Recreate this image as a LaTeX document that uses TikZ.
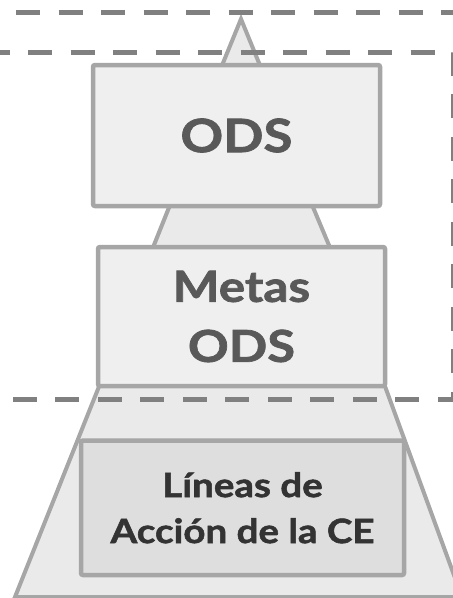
\documentclass[tikz,border=0pt]{standalone}
\usepackage{fontspec}
\setmainfont{Lato}[BoldFeatures={FakeStretch=1.15,FakeBold=1.6}]
\definecolor{edgegray}{HTML}{A6A6A6}
\definecolor{pyrfill}{HTML}{EAEAEA}
\definecolor{boxfill}{HTML}{EFEFEF}
\definecolor{basefill}{HTML}{DEDEDE}
\definecolor{dashgray}{HTML}{808080}
\definecolor{txtgray}{HTML}{595959}
\definecolor{txtdark}{HTML}{333333}
\begin{document}
\begin{tikzpicture}[x=1pt,y=-1pt,
  seg/.style={draw=edgegray, fill=pyrfill, line width=4pt, line join=miter},
  box/.style={draw=edgegray, line width=4.5pt, rounded corners=2pt, inner sep=0pt, align=center},
  zone/.style={draw=dashgray, line width=5pt, dash pattern=on 24pt off 18.5pt}]
\useasboundingbox (0,0) rectangle (453,598);
\clip (0,0) rectangle (453,598);
% pyramid segments
\draw[seg] (241,19) -- (263.5,74) -- (218.5,74) -- cycle;
\draw[seg] (172,200) -- (310,200) -- (331,250) -- (152,250) -- cycle;
\draw[seg] (101.6,380) -- (382.7,380) -- (462,597) -- (15,597) -- cycle;
% boxes
\node[box, fill=boxfill, minimum width=287pt, minimum height=141pt,
      font=\fontsize{46}{60}\selectfont\bfseries, text=txtgray] (ods) at (236.5,135.5) {ODS};
\node[box, fill=boxfill, minimum width=287pt, minimum height=139pt,
      font=\fontsize{43}{61}\selectfont\bfseries, text=txtgray] (metas) at (241.5,316.5) {Metas\\[-1pt]\fontsize{44}{61}\selectfont ODS};
\node[box, fill=basefill, minimum width=323pt, minimum height=134.5pt,
      font=\fontsize{33.5}{46}\selectfont\bfseries, text=txtdark] (lineas) at (242.5,507.75) {Líneas de\\Acción de la CE};
% dashed zones
\draw[zone] (16,12.5) -- (475,12.5);
\draw[zone] (-14.5,52) -- (453.5,52) -- (453.5,399.5) -- (13,399.5);
\end{tikzpicture}
\end{document}
